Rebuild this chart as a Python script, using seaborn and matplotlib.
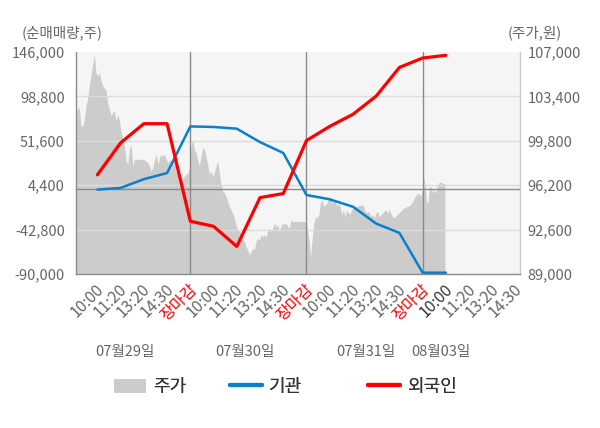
import numpy as np
import matplotlib
matplotlib.use("Agg")
import matplotlib.pyplot as plt
import matplotlib.transforms as mtransforms
from matplotlib.patches import Patch
from matplotlib.lines import Line2D
import seaborn as sns

sns.set_theme(style="white")
plt.rcParams['font.family'] = ['Noto Sans CJK KR', 'DejaVu Sans']
plt.rcParams['axes.unicode_minus'] = False

# ---------------- data ----------------
time_labels = ["10:00", "11:20", "13:20", "14:30", "장마감",
               "10:00", "11:20", "13:20", "14:30", "장마감",
               "10:00", "11:20", "13:20", "14:30", "장마감",
               "10:00", "11:20", "13:20", "14:30"]
date_labels = ["07월29일", "07월30일", "07월31일", "08월03일"]
legend_labels = ["주가", "기관", "외국인"]

# net buying (shares), one value per labelled slot
foreign_net = [15400, 49400, 69800, 69800, -33900, -39300, -60700, -8800, -4500,
               51900, 66900, 79800, 99100, 129600, 139600, 142500]
inst_net = [-300, 1500, 10800, 17300, 66900, 66300, 64500, 50200, 38700,
            -6000, -10600, -18500, -36400, -46300, -88600, -88600]

# intraday stock price (won)
price_day1 = [101700, 102510, 102380, 101020, 100960, 101560, 102650, 103190, 104280,
              105090, 106050, 106780, 105230, 105090, 105310, 104690, 104280, 104060,
              103870, 102780, 102380, 101830, 102100, 102240, 101420, 101970, 101420,
              100470, 100060, 99380, 98160, 97890, 99110, 99520, 97750, 98300, 98300,
              98300, 98300, 98300, 98300, 98240, 98160, 98020, 97750, 97350, 97620,
              98300, 98700, 97890, 98430, 98700, 98570, 98700, 98300, 98020, 98300,
              98020, 98300, 98430, 98300, 97480, 96800, 96670, 96800, 96940, 97070,
              97210, 97620]
price_day2 = [99380, 99930, 99110, 98840, 98300, 97750, 98570, 99250, 99110, 98570,
              97890, 97070, 97350, 96940, 97210, 97750, 98160, 97210, 96260, 95710,
              95580, 95310, 94900, 94490, 94220, 93950, 93540, 92990, 92590, 92450,
              92320, 91910, 91640, 91230, 90960, 90550, 90820, 91090, 90960, 91640,
              91910, 91770, 92180, 92040, 92180, 92040, 92450, 92720, 92450, 92720,
              93130, 92860, 92990, 92590, 92860, 93130, 92990, 93130, 92860, 92720,
              93400, 93270, 93270, 93270, 93270, 93270, 93270, 93270, 93270, 93130]
price_day3 = [92590, 91770, 90410, 92040, 93130, 93670, 93540, 93810, 94760, 95030,
              94490, 94630, 94760, 95310, 95170, 94760, 95030, 94900, 94490, 94760,
              94490, 93810, 94220, 93670, 94220, 93950, 93810, 94220, 94350, 94270,
              94490, 94490, 94630, 94490, 94630, 94220, 93950, 94080, 93950, 93670,
              93810, 93540, 93950, 94080, 93670, 93810, 93950, 94080, 94220, 93950,
              94220, 93950, 93670, 93540, 93670, 93810, 93950, 94080, 94220, 94350,
              94350, 94490, 94490, 94630, 94760, 95030, 95310, 95440, 95580, 95310,
              95580]
price_day4 = [96800, 96390, 94900, 94760, 96120, 95990, 95580, 95850, 95580, 96120,
              96390, 96450, 96390, 96340, 96340]

net_ticks = [-90000, -42800, 4400, 51600, 98800, 146000]
price_ticks = [89000, 92600, 96200, 99800, 103400, 107000]

# ---------------- layout ----------------
W, H = 600, 428
fig = plt.figure(figsize=(W / 100, H / 100), dpi=100)
ax = fig.add_axes([76 / W, 1 - 274 / H, 444 / W, 222 / H])

x_lo, x_hi = -0.92, 18.19
day_spans = [(-0.92, 3.97), (4.03, 8.98), (9.04, 13.96), (14.03, 14.96)]
price_days = [price_day1, price_day2, price_day3, price_day4]
px = np.concatenate([np.linspace(a, b, len(p)) for (a, b), p in zip(day_spans, price_days)])
py = np.concatenate([np.array(p, dtype=float) for p in price_days])

ax.set_facecolor('#f5f5f5')
ax.fill_between(px, price_ticks[0], py, color='#cccccc', lw=0, zorder=1)
for v in price_ticks[1:-1]:
    ax.axhline(v, color='#dcdcdc', lw=1, zorder=1.5)
for i, lab in enumerate(time_labels):
    if lab == "장마감":
        ax.axvline(i, color='#8a8a8a', lw=1, zorder=2)
ax.set_ylim(price_ticks[0], price_ticks[-1])
ax.set_xlim(x_lo, x_hi)

ax2 = ax.twinx()
ax2.patch.set_visible(False)
ax2.axhline(0, color='#8a8a8a', lw=1, zorder=1)
idx = np.arange(len(foreign_net))
sns.lineplot(x=idx, y=inst_net, ax=ax2, color='#0a7fcc', lw=1.8, zorder=3)
sns.lineplot(x=idx, y=foreign_net, ax=ax2, color='#ff0000', lw=2.3, zorder=4)
ax2.set_ylim(net_ticks[0], net_ticks[-1])
ax2.set_xlim(x_lo, x_hi)
ax2.set_xlabel('')
ax2.set_ylabel('')

# y axes: net on the left, price on the right
ax.yaxis.tick_right()
ax.set_yticks(price_ticks)
ax.set_yticklabels([f"{v:,}" for v in price_ticks])
ax.tick_params(axis='y', length=0, pad=5.5, labelsize=10.5, labelcolor='#666666')
ax2.yaxis.tick_left()
ax2.set_yticks(net_ticks)
ax2.set_yticklabels([f"{v:,}" for v in net_ticks])
ax2.tick_params(axis='y', length=0, pad=8, labelsize=10.5, labelcolor='#666666')

for s in ax2.spines.values():
    s.set_visible(False)
ax.spines['top'].set_visible(False)
ax.spines['left'].set_color('#8a8a8a')
ax.spines['bottom'].set_color('#8a8a8a')
ax.spines['right'].set_color('#cccccc')
for s in ['left', 'bottom', 'right']:
    ax.spines[s].set_linewidth(1)

# x axis
ax.set_xticks(range(len(time_labels)))
ax.set_xticklabels(time_labels, rotation=45, ha='right', va='center',
                   rotation_mode='anchor')
ax.tick_params(axis='x', which='major', length=0, pad=9, labelsize=11.5)
shift = mtransforms.ScaledTranslation(4 / 100, 0, fig.dpi_scale_trans)
for i, t in enumerate(ax.get_xticklabels()):
    lab = time_labels[i]
    if lab == "장마감":
        t.set_color('#ff0000')
    elif i == 15:
        t.set_color('#333333')
    else:
        t.set_color('#666666')
    t.set_transform(t.get_transform() + shift)
ax.set_xticks([x_lo, 4, 9, 14], minor=True)
ax.tick_params(axis='x', which='minor', length=5, width=1, color='#8a8a8a', direction='out')

# date labels under the ticks
date_pos = [1.19, 6.36, 11.56, 14.79]
trans = mtransforms.blended_transform_factory(ax.transData, fig.transFigure)
for xp, d in zip(date_pos, date_labels):
    fig.text(xp, 1 - 352 / H, d, transform=trans, ha='center', va='center',
             fontsize=10.5, color='#666666')

# axis titles
fig.text(22 / W, 1 - 33 / H, "(순매매량,주)", ha='left', va='center', fontsize=10.5, color='#666666')
fig.text(562 / W, 1 - 33 / H, "(주가,원)", ha='right', va='center', fontsize=10.5, color='#666666')

# legend: three single-entry legends placed individually
handles = [Patch(facecolor='#cccccc', edgecolor='none'),
           Line2D([], [], color='#0a7fcc', lw=3),
           Line2D([], [], color='#ff0000', lw=3)]
leg_x = [114, 230, 368]
for h, lab, lx in zip(handles, legend_labels, leg_x):
    leg = fig.legend([h], [lab], loc='center left',
                     bbox_to_anchor=(lx / W, 1 - 387 / H), frameon=False,
                     fontsize=13, handlelength=1.75, handleheight=0.8,
                     handletextpad=0.4, borderpad=0, borderaxespad=0)
    for t in leg.get_texts():
        t.set_color('#333333')
    fig.add_artist(leg)

fig.savefig("out.png", dpi=100)
